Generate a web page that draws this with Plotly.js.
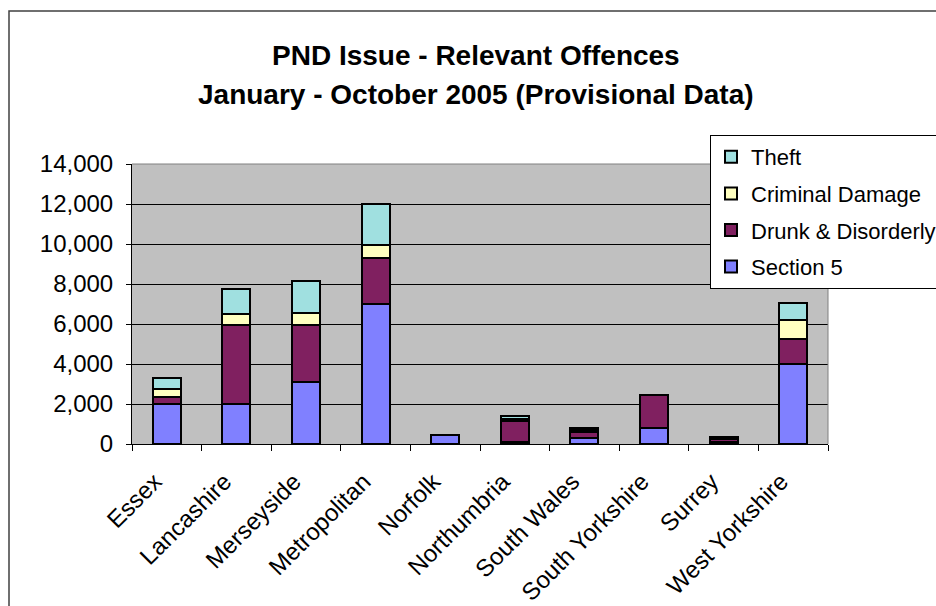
<!DOCTYPE html>
<html>
<head>
<meta charset="utf-8">
<script src="https://cdn.plot.ly/plotly-3.0.1.min.js"></script>
<style>
html,body{margin:0;padding:0;background:#fff;}
#chart{width:936px;height:606px;}
</style>
</head>
<body>
<div id="chart"></div>
<script>
const forces = ["Essex","Lancashire","Merseyside","Metropolitan","Norfolk","Northumbria","South Wales","South Yorkshire","Surrey","West Yorkshire"];
const section5 = [2000, 2000, 3100, 7020, 460, 120, 300, 780, 100, 4000];
const drunkDisorderly = [350, 3930, 2830, 2300, 0, 1030, 280, 1650, 150, 1270];
const criminalDamage = [380, 550, 630, 620, 0, 90, 100, 0, 30, 930];
const theft = [550, 1280, 1580, 2080, 0, 140, 130, 0, 50, 830];
const yTicks = [0, 2000, 4000, 6000, 8000, 10000, 12000, 14000];
const yTickText = ["0","2,000","4,000","6,000","8,000","10,000","12,000","14,000"];
const titleLine1 = "PND Issue - Relevant Offences";
const titleLine2 = "January - October 2005 (Provisional Data)";

const FONT = "Arial, 'Liberation Sans', sans-serif";
function mk(name, vals, color, rank){
  return {type:"bar", name:name, x:forces, y:vals, legendgroup:name, legendrank:rank,
    marker:{color:color, line:{color:"#000", width:2}}, hoverinfo:"x+y+name"};
}
const data = [
  mk("Section 5", section5, "#8080FF", 4),
  mk("Drunk & Disorderly", drunkDisorderly, "#802060", 3),
  mk("Criminal Damage", criminalDamage, "#FFFFC0", 2),
  mk("Theft", theft, "#A0E0E0", 1)
];

const L=132, R=828, T=164, B=444, W=936, H=606;
const pw=R-L, ph=B-T;
const px = v => (v-L)/pw;
const py = v => (B-v)/ph;

const layout = {
  width:W, height:H,
  margin:{l:L, r:W-R, t:T, b:H-B, autoexpand:false},
  paper_bgcolor:"#fff", plot_bgcolor:"#C0C0C0",
  barmode:"stack", bargap:0.6,
  font:{family:FONT, color:"#000", size:22},
  showlegend:true,
  legend:{x:px(710), y:py(135), xanchor:"left", yanchor:"top",
    bgcolor:"#fff", bordercolor:"#000", borderwidth:1,
    font:{family:FONT, size:22, color:"#000"},
    traceorder:"grouped", tracegroupgap:5},
  xaxis:{type:"category", tickangle:-45, tickson:"boundaries", ticks:"outside", ticklen:6,
    tickcolor:"#000", showline:true, linecolor:"#000", linewidth:1, showgrid:false,
    ticklabelstandoff:13, ticklabelshift:-12,
    tickfont:{family:FONT, size:24, color:"#000"}},
  yaxis:{range:[0,14000], tickvals:yTicks, ticktext:yTickText, ticks:"outside", ticklen:5,
    tickcolor:"#000", showline:true, linecolor:"#000", linewidth:1,
    showgrid:true, gridcolor:"#000", gridwidth:1, zeroline:false,
    ticklabelstandoff:8,
    tickfont:{family:FONT, size:24, color:"#000"}},
  annotations:[
    {text:"<b>"+titleLine1+"</b>", xref:"paper", yref:"paper", x:px(476), y:py(55),
     xanchor:"center", yanchor:"middle", showarrow:false, font:{family:FONT, size:28, color:"#000"}},
    {text:"<b>"+titleLine2+"</b>", xref:"paper", yref:"paper", x:px(476), y:py(94),
     xanchor:"center", yanchor:"middle", showarrow:false, font:{family:FONT, size:28, color:"#000"}}
  ],
  shapes:[
    {type:"line", xref:"paper", yref:"paper", x0:0, x1:1, y0:1, y1:1, line:{color:"#808080", width:1}},
    {type:"line", xref:"paper", yref:"paper", x0:1, x1:1, y0:0, y1:1, line:{color:"#808080", width:1}},
    {type:"rect", xref:"paper", yref:"paper", x0:px(9), x1:px(945), y0:py(615), y1:py(11),
     line:{color:"#404040", width:1.5}, fillcolor:"rgba(0,0,0,0)"}
  ]
};
Plotly.newPlot("chart", data, layout, {displayModeBar:false, staticPlot:true});
</script>
</body>
</html>
